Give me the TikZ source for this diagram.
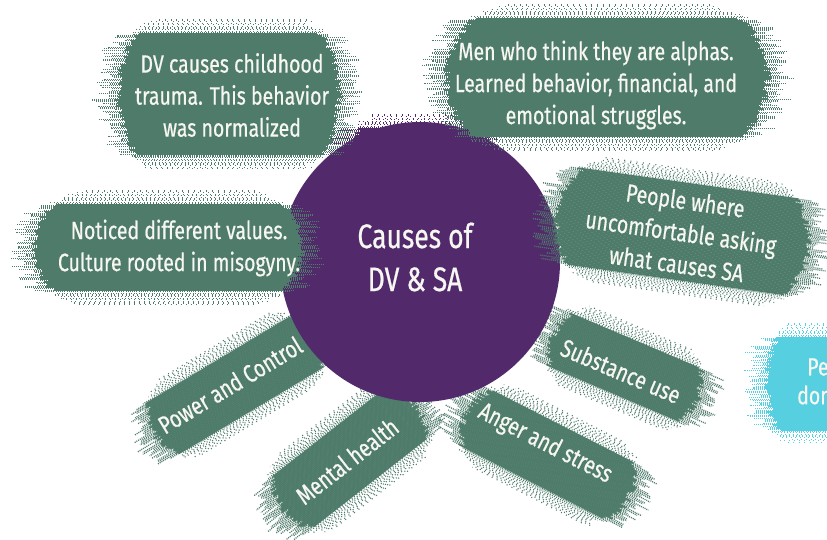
\documentclass[tikz,border=0pt]{standalone}
\usepackage{fontspec}
\setmainfont{Fira Sans}[FakeStretch=0.78,FakeBold=0.6]
\definecolor{brushgreen}{HTML}{4E7B6A}
\definecolor{circpurple}{HTML}{522A6B}
\definecolor{brushcyan}{HTML}{56CFE1}
\definecolor{inkwhite}{HTML}{F7F7F2}
\tikzset{
  btext/.style={text=inkwhite, align=center, inner sep=0pt, font=\fontsize{25}{32}\selectfont},
}
% brush stroke: centre x, centre y, angle, core width, core height, colour, seed
\newcommand{\brushblob}[7]{%
\begin{scope}[shift={(#1,#2)}, rotate=#3]
  \pgfmathsetseed{#7}%
  \pgfmathsetmacro\hh{#5/2}%
  \pgfmathsetmacro\hw{#4/2}%
  \pgfmathtruncatemacro\nn{(#5+28)/1.6}%
  \foreach \k in {0,...,\nn}{%
    \pgfmathsetmacro\t{-\hh-14+\k*1.6}%
    \pgfmathsetmacro\rr{sqrt(max(0,1-0.45*(\t/(\hh+14))^2))}%
    \pgfmathtruncatemacro\incore{abs(\t)<=\hh}%
    \ifnum\incore=1
      \pgfmathsetmacro\xl{-\hw*\rr+8*rnd}%
      \pgfmathsetmacro\xr{\hw*\rr-8*rnd}%
      \pgfmathsetmacro\xll{\xl-6-18*rnd}%
      \pgfmathsetmacro\xrr{\xr+6+18*rnd}%
      \draw[#6, line width=1.9pt] (\xl,\t) -- (\xr,\t);
      \draw[#6, line width=1.3pt, dash pattern=on 1pt off 1pt] (\xl,\t) -- (\xll,\t);
      \draw[#6, line width=1.3pt, dash pattern=on 1pt off 1pt] (\xr,\t) -- (\xrr,\t);
    \else
      \pgfmathsetmacro\ee{(abs(\t)-\hh)/14}%
      \pgfmathsetmacro\xl{-\hw*\rr*(1-0.12*\ee)-12*rnd+6}%
      \pgfmathsetmacro\xr{\hw*\rr*(1-0.12*\ee)+12*rnd-6}%
      \pgfmathsetmacro\gap{0.6+3.2*\ee+1.5*rnd}%
      \pgfmathsetmacro\ph{3*rnd}%
      \draw[#6, line width=1.1pt, dash pattern=on 1pt off \gap pt, dash phase=\ph pt] (\xl,\t) -- (\xr,\t);
    \fi
  }
\end{scope}}
\begin{document}
\begin{tikzpicture}[x=1pt,y=-1pt]
\useasboundingbox (0,0) rectangle (827,539);
\clip (0,0) rectangle (827,539);
\fill[white] (0,0) rectangle (827,539);

% lower petals
\brushblob{235}{385}{31}{195}{60}{brushgreen}{11}
\brushblob{350}{458}{38}{175}{66}{brushgreen}{12}
\brushblob{548}{455}{-27}{190}{64}{brushgreen}{13}
\brushblob{625}{368}{-23}{165}{58}{brushgreen}{14}
\node[btext, rotate=31] (pc) at (230,385) {Power and Control};
\node[btext, rotate=38] (mh) at (347,461) {Mental health};
\node[btext, rotate=-27] (as) at (545,444) {Anger and stress};
\node[btext, rotate=-23] (su) at (621,371) {Substance use};

% cyan petal at the edge
\brushblob{838}{384}{0}{150}{92}{brushcyan}{17}
\node[btext, anchor=west] (cy1) at (807,367) {Pe};
\node[btext, anchor=west] (cy2) at (797,395) {dom};

% centre circle
\brushblob{415}{148}{0}{130}{38}{circpurple}{18}
\node[circle, fill=circpurple, minimum size=280, inner sep=0pt] (c) at (420,262) {};
\node[text=inkwhite, font=\fontsize{34}{43}\selectfont, align=center, inner sep=0pt] (ct) at (415,257)
  {Causes of\\DV \& SA};

% petals lying over the circle
\brushblob{229}{95}{0}{228}{122}{brushgreen}{15}
\node[btext] (tl) at (232,95) {DV causes childhood\\trauma. This behavior\\was normalized};
\brushblob{168}{248}{0}{275}{86}{brushgreen}{16}
\node[btext] (lf) at (179,248) {Noticed different values.\\Culture rooted in misogyny.};
\brushblob{607}{78}{0}{328}{118}{brushgreen}{19}
\node[btext] (tr) at (596,85) {Men who think they are alphas.\\Learned behavior, financial, and\\emotional struggles.};
\brushblob{682}{232}{-8}{262}{98}{brushgreen}{20}
\node[btext, rotate=-8] (rt) at (681,232) {People where\\uncomfortable asking\\what causes SA};
\end{tikzpicture}
\end{document}
